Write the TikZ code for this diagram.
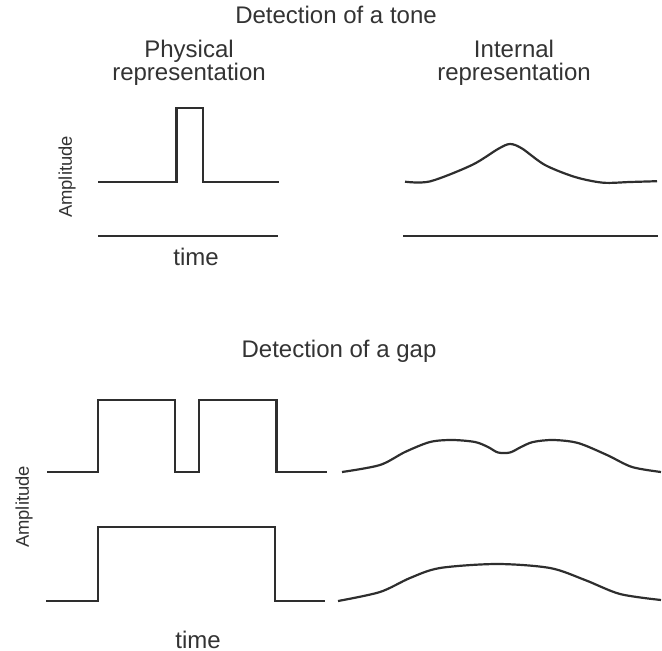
\documentclass[tikz,border=0pt]{standalone}
\usepackage{fontspec}
\setmainfont{Liberation Sans}
\usetikzlibrary{calc, positioning}

\begin{document}
\begin{tikzpicture}[x=0.5pt,y=-0.5pt]
\colorlet{inkgray}{black!82}
\colorlet{textgray}{black!80}
\tikzset{
  wave/.style={line width=1.1pt,inkgray,line join=miter},
  label/.style={text=textgray,font=\fontsize{12}{11.5}\selectfont,inner sep=0pt,align=center},
  axislabel/.style={label,rotate=90,font=\fontsize{9.2}{11}\selectfont},
}
\useasboundingbox (0,0) rectangle (662,651);

\coordinate (TL) at (98,181.7);
\coordinate (TR) at (279,181.7);
\coordinate (PA) at (176.5,108);
\coordinate (PB) at (203,108);

\draw[wave] (TL) -- (PA |- TL) -- (PA) -- (PB) -- (PB |- TL) -- (TR);
\draw[wave] (98,236) -- (278,236);
\draw[wave] plot[smooth,tension=0.5] coordinates {
  (405,181.7) (430,181.4) (472,165) (498,149) (510,144) (522,148.5)
  (545,165) (575,177) (603,182.7) (630,182) (657,181.2)};
\draw[wave] (403,236) -- (658,236);

\coordinate (GA) at (47,472);
\coordinate (GB) at (327,472);
\draw[wave] (GA) -- (98,472) -- (98,400) -- (175,400) -- (175,472)
  -- (199,472) -- (199,400) -- (276.5,400) -- (276.5,472) -- (GB);
\coordinate (GC) at (46,601);
\coordinate (GD) at (325,601);
\draw[wave] (GC) -- (98,601) -- (98,527) -- (275,527) -- (275,601) -- (GD);

\draw[wave] plot[smooth,tension=0.5] coordinates {
  (342,472) (380,465) (405,452) (430,442) (452,440) (475,442) (488,447)
  (498,452.5) (510,452.5) (521,447) (533,442) (553,440) (578,443)
  (607,455) (632,467) (661,472)};
\draw[wave] plot[smooth,tension=0.5] coordinates {
  (338,601) (380,592) (410,578) (440,568) (497,564) (550,568) (585,580)
  (620,594) (661,600)};

\node[label] (tonetitle) at (336,15) {Detection of a tone};
\node[label] (physical) at (189,63) {Physical\\representation};
\node[label] (internal) at (514,63) {Internal\\representation};
\node[axislabel] (ampone) at (67,177) {Amplitude};
\node[label] (timeone) at (196,257) {time};

\node[label] (gaptitle) at (339,351) {Detection of a gap};
\node[axislabel] (amptwo) at (24,507) {Amplitude};
\node[label] (timetwo) at (198,640) {time};
\end{tikzpicture}
\end{document}
